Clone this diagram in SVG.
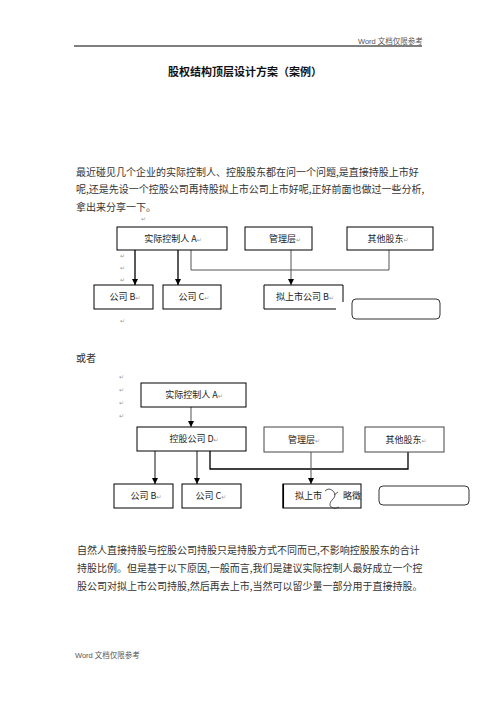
<svg xmlns="http://www.w3.org/2000/svg" width="496" height="702" viewBox="0 0 496 702">
<defs>
<style>
.hdr{font-family:"Liberation Sans","Noto Sans CJK SC",sans-serif;font-size:7.5px;fill:#555}
.title{font-family:"Noto Sans CJK SC",sans-serif;font-size:11px;font-weight:bold;fill:#111}
.body{font-family:"Noto Sans CJK SC",sans-serif;font-size:10px;fill:#333}
.lbl{font-family:"Noto Sans CJK SC",sans-serif;font-size:9px;fill:#222;text-anchor:middle}
.ret{font-family:"DejaVu Sans",sans-serif;font-size:6px;fill:#999}
.box{fill:#fff;stroke:#000;stroke-width:1}
.gbox{fill:#fff;stroke:#444;stroke-width:1}
.rbox{fill:#fff;stroke:#333;stroke-width:1}
.blk{fill:none;stroke:#000;stroke-width:1.3}
.gry{fill:none;stroke:#555;stroke-width:1}
.thk{fill:none;stroke:#888;stroke-width:2}
</style>
<marker id="ah" viewBox="0 0 10 10" refX="10" refY="5" markerWidth="6" markerHeight="6" markerUnits="userSpaceOnUse" orient="auto">
<path d="M0,0 L10,5 L0,10 Z" fill="#000"/>
</marker>
</defs>
<rect width="496" height="702" fill="#fff"/>

<g id="header">
<text class="hdr" x="358" y="43.5">Word 文档仅限参考</text>
<line x1="74" y1="46" x2="422" y2="46" stroke="#000" stroke-width="1"/>
</g>

<g id="title">
<text class="title" x="245" y="76" text-anchor="middle">股权结构顶层设计方案（案例）</text>
</g>

<g id="para1">
<text class="body" x="76" y="175.5">最近碰见几个企业的实际控制人、控股股东都在问一个问题,是直接持股上市好</text>
<text class="body" x="76" y="193">呢,还是先设一个控股公司再持股拟上市公司上市好呢,正好前面也做过一些分析,</text>
<text class="body" x="76" y="210.5">拿出来分享一下。</text>
</g>

<g id="marks1">
<text class="ret" x="141" y="221">↵</text>
<text class="ret" x="120" y="258">↵</text>
<text class="ret" x="120" y="270">↵</text>
<text class="ret" x="120" y="282">↵</text>
<text class="ret" x="120" y="323">↵</text>
</g>

<g id="connectors1">
<line class="blk" x1="135" y1="250" x2="135" y2="285" marker-end="url(#ah)"/>
<line class="blk" x1="178" y1="250" x2="178" y2="285" marker-end="url(#ah)"/>
<path class="gry" d="M191,250 V270 H389 V250"/>
<line class="gry" x1="291" y1="250" x2="291" y2="285" marker-end="url(#ah)"/>
</g>

<g id="d1-a">
<rect class="box" x="117" y="227" width="110" height="23"/>
<text class="lbl" x="173" y="241.5">实际控制人 A<tspan class="ret">↵</tspan></text>
</g>
<g id="d1-mgmt">
<rect class="box" x="245" y="227" width="67" height="23"/>
<text class="lbl" x="285" y="241.5">管理层<tspan class="ret">↵</tspan></text>
</g>
<g id="d1-other">
<rect class="box" x="347" y="227" width="86" height="23"/>
<text class="lbl" x="388" y="241.5">其他股东<tspan class="ret">↵</tspan></text>
</g>
<g id="d1-b">
<rect class="box" x="94" y="285" width="59" height="24"/>
<text class="lbl" x="125" y="300">公司 B<tspan class="ret">↵</tspan></text>
</g>
<g id="d1-c">
<rect class="box" x="163" y="285" width="58" height="24"/>
<text class="lbl" x="194" y="300">公司 C<tspan class="ret">↵</tspan></text>
</g>
<g id="d1-listed">
<path d="M336,309 H264 V285 H343 V302" fill="none" stroke="#000" stroke-width="1"/>
<text class="lbl" x="305" y="300">拟上市公司 B<tspan class="ret">↵</tspan></text>
</g>
<g id="d1-blank">
<rect class="rbox" x="352" y="299" width="88" height="20" rx="4"/>
</g>

<g id="or">
<text class="body" x="76" y="361.5">或者</text>
</g>

<g id="marks2">
<text class="ret" x="119" y="379">↵</text>
<text class="ret" x="119" y="392">↵</text>
<text class="ret" x="119" y="405">↵</text>
<text class="ret" x="119" y="418">↵</text>
</g>

<g id="connectors2">
<line class="gry" x1="191" y1="407" x2="191" y2="427" marker-end="url(#ah)"/>
<line class="thk" x1="155" y1="451" x2="155" y2="484" marker-end="url(#ah)"/>
<line class="thk" x1="197" y1="451" x2="197" y2="484" marker-end="url(#ah)"/>
<path class="blk" d="M210,451 V469 H408 V452"/>
<line class="gry" x1="311" y1="452" x2="311" y2="484" marker-end="url(#ah)"/>
</g>

<g id="d2-a">
<rect class="box" x="141" y="383" width="105" height="24"/>
<text class="lbl" x="194" y="398">实际控制人 A<tspan class="ret">↵</tspan></text>
</g>
<g id="d2-d">
<rect class="box" x="137" y="427" width="109" height="24"/>
<text class="lbl" x="194" y="442">控股公司 D<tspan class="ret">↵</tspan></text>
</g>
<g id="d2-mgmt">
<rect class="gbox" x="264" y="427" width="79" height="25"/>
<text class="lbl" x="304" y="442.5">管理层<tspan class="ret">↵</tspan></text>
</g>
<g id="d2-other">
<rect class="gbox" x="365" y="427" width="79" height="25"/>
<text class="lbl" x="406" y="442.5">其他股东<tspan class="ret">↵</tspan></text>
</g>
<g id="d2-b">
<rect class="box" x="114" y="484" width="59" height="24"/>
<text class="lbl" x="146" y="499">公司 B<tspan class="ret">↵</tspan></text>
</g>
<g id="d2-c">
<rect class="box" x="182" y="484" width="59" height="24"/>
<text class="lbl" x="211" y="499">公司 C<tspan class="ret">↵</tspan></text>
</g>
<g id="d2-listed">
<rect class="box" x="283" y="484" width="78" height="24"/>
<line x1="283.3" y1="484" x2="283.3" y2="508" stroke="#000" stroke-width="1.5"/>
<text class="lbl" x="295" y="499" style="text-anchor:start">拟上市</text>
<path d="M325,491 q4,-4 8,0 q4,4 0,8 q-5,5 -2,8 q4,3 8,0 M334,495 l4,-3" fill="none" stroke="#333" stroke-width="0.8"/>
<text class="lbl" x="343" y="499" style="text-anchor:start">略徵</text>
</g>
<g id="d2-blank">
<rect class="rbox" x="379" y="486" width="90" height="19" rx="4"/>
</g>

<g id="para2">
<text class="body" x="77" y="554">自然人直接持股与控股公司持股只是持股方式不同而已,不影响控股股东的合计</text>
<text class="body" x="77" y="572">持股比例。但是基于以下原因,一般而言,我们是建议实际控制人最好成立一个控</text>
<text class="body" x="77" y="590">股公司对拟上市公司持股,然后再去上市,当然可以留少量一部分用于直接持股。</text>
</g>

<g id="footer">
<text class="hdr" x="75" y="657.5">Word 文档仅限参考</text>
</g>
</svg>
